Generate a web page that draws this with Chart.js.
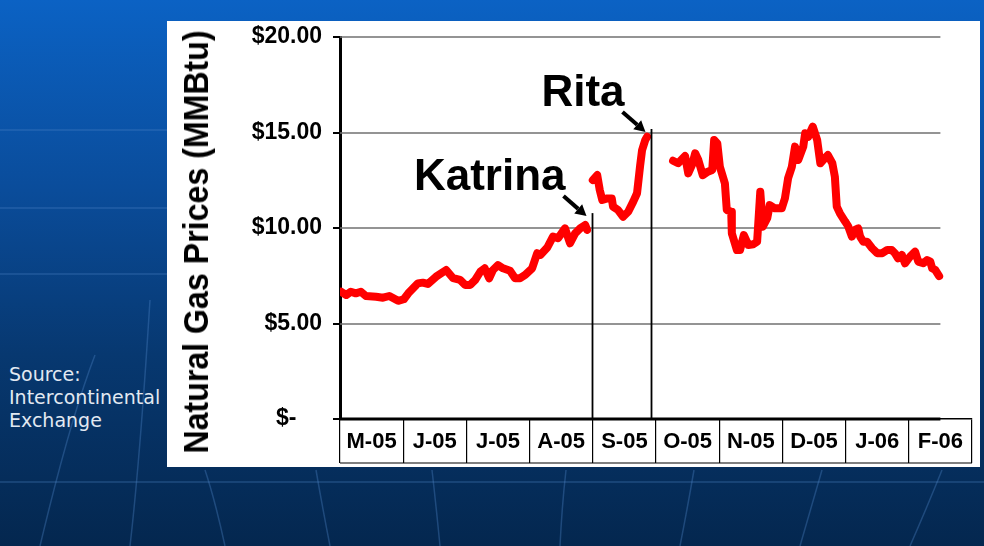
<!DOCTYPE html>
<html>
<head>
<meta charset="utf-8">
<title>Natural Gas Prices</title>
<script src="https://cdn.jsdelivr.net/npm/chart.js@4.4.0/dist/chart.umd.min.js"></script>
<style>
html, body { margin: 0; padding: 0; }
body {
    width: 984px; height: 546px; overflow: hidden; position: relative;
    background: linear-gradient(to bottom, #0b62c4 0%, #0a4c9a 35%, #073870 65%, #04274f 100%);
    font-family: Arial, "Liberation Sans", sans-serif;
}
#deco { position: absolute; left: 0; top: 0; }
#panel { position: absolute; left: 167px; top: 21px; width: 813px; height: 446px; background: #fff; }
#ytitle {
    position: absolute; left: 196px; top: 242px; white-space: nowrap;
    font-weight: bold; font-size: 35px; color: #000;
    transform: translate(-50%, -50%) rotate(-90deg) scaleX(0.918);
}
#source {
    position: absolute; left: 9px; top: 363px; color: #e2e9f2;
    font-family: "DejaVu Sans", sans-serif; font-size: 19px; line-height: 23px;
}
</style>
</head>
<body>
<svg id="deco" width="984" height="546">
  <g stroke="#4f86c8" stroke-opacity="0.35" stroke-width="1.5" fill="none">
    <line x1="0" y1="130" x2="167" y2="130"/>
    <line x1="0" y1="208" x2="167" y2="208"/>
    <line x1="0" y1="274" x2="167" y2="274"/>
    <line x1="0" y1="482" x2="984" y2="482"/>
    <path d="M40 546 Q70 420 95 355"/>
    <path d="M130 546 Q140 460 150 300"/>
    <path d="M225 546 Q215 500 205 470"/>
    <path d="M330 546 Q322 505 316 470"/>
    <path d="M440 546 Q436 505 432 470"/>
    <path d="M560 546 Q562 505 566 470"/>
    <path d="M680 546 Q688 505 694 470"/>
    <path d="M800 546 Q812 505 822 470"/>
    <path d="M910 546 Q928 505 942 470"/>
  </g>
</svg>
<div id="source">Source:<br>Intercontinental<br>Exchange</div>
<div id="panel"><canvas id="chart" width="813" height="446"></canvas></div>
<div id="ytitle">Natural Gas Prices (MMBtu)</div>
<script>
// months shown under the axis
var months = ["M-05", "J-05", "J-05", "A-05", "S-05", "O-05", "N-05", "D-05", "J-06", "F-06"];
// position along the axis in months from start of May 2005, null price = no trading data shown
var monthPos = [0.02, 0.10, 0.17, 0.25, 0.33, 0.41, 0.57, 0.68, 0.78, 0.92,
    1.01, 1.08, 1.23, 1.31, 1.39, 1.52, 1.68, 1.79, 1.90, 1.98,
    2.06, 2.14, 2.22, 2.29, 2.36, 2.42, 2.50, 2.58, 2.69, 2.77,
    2.85, 2.93, 3.04, 3.12, 3.17, 3.28, 3.37, 3.45, 3.56, 3.64,
    3.72, 3.80, 3.88, 3.91, 3.95,
    4.00, 4.07, 4.11, 4.15, 4.23, 4.30, 4.32, 4.40, 4.48, 4.56,
    4.64, 4.70, 4.75, 4.78, 4.83, 4.86, 5.00,
    5.27, 5.35, 5.41, 5.46, 5.51, 5.57, 5.62, 5.67, 5.74, 5.82,
    5.89, 5.92, 5.97, 6.01, 6.09, 6.12, 6.19, 6.20, 6.28, 6.33,
    6.39, 6.46, 6.54, 6.60, 6.65, 6.69, 6.76, 6.80, 6.88, 6.99,
    7.04, 7.09, 7.15, 7.20, 7.25, 7.33, 7.36, 7.41, 7.48, 7.55,
    7.60, 7.67, 7.72, 7.79, 7.83, 7.86, 7.91, 7.99, 8.04, 8.10,
    8.15, 8.20, 8.23, 8.28, 8.34, 8.42, 8.50, 8.58, 8.66, 8.73,
    8.78, 8.83, 8.89, 8.94, 9.02, 9.10, 9.15, 9.23, 9.29, 9.34,
    9.37, 9.42, 9.48];
var prices = [6.66, 6.49, 6.66, 6.58, 6.66, 6.44, 6.40, 6.35, 6.44, 6.19,
    6.27, 6.58, 7.10, 7.14, 7.07, 7.45, 7.80, 7.37, 7.28, 7.02,
    7.02, 7.28, 7.71, 7.89, 7.37, 7.80, 8.06, 7.89, 7.76, 7.37,
    7.37, 7.54, 7.89, 8.68, 8.59, 8.98, 9.55, 9.46, 9.98, 9.20,
    9.72, 9.98, 10.16, 9.90, null,
    12.51, 12.77, 11.99, 11.47, 11.55, 11.55, 11.12, 10.94, 10.59, 10.85,
    11.38, 11.82, 13.30, 14.08, 14.61, 14.78, null,
    13.52, 13.39, 13.60, 13.77, 12.86, 13.30, 13.91, 13.56, 12.77, 12.95,
    13.04, 14.61, 14.43, 13.21, 12.34, 10.94, 10.85, 9.72, 8.85, 8.85,
    9.63, 9.11, 9.15, 9.28, 11.90, 10.07, 10.51, 11.20, 11.03, 11.03,
    11.55, 12.60, 13.21, 14.26, 13.56, 14.26, 14.96, 14.78, 15.31, 14.61,
    13.39, 13.65, 13.82, 13.39, 12.69, 11.12, 10.77, 10.35, 10.10, 9.55,
    9.90, 9.98, 9.55, 9.28, 9.28, 8.94, 8.68, 8.68, 8.85, 8.85,
    8.68, 8.41, 8.59, 8.15, 8.50, 8.76, 8.24, 8.15, 8.32, 8.24,
    7.89, 7.80, 7.48];
var yTicks = [0, 5, 10, 15, 20];
// hurricanes: where the marker line sits and how high it reaches
var storms = ["Katrina", "Rita"];
var stormPos = [3.99, 4.92];
var stormTop = [10.78, 15.18];

var gridEnd = 9.5; // horizontal grid lines stop here, month boxes run on
var FONT = 'Arial, "Liberation Sans", sans-serif';

var points = monthPos.map(function(m, i) { return {x: m, y: prices[i]}; });

var gridPlugin = {
    id: "gridPlugin",
    beforeDatasetsDraw: function(chart) {
        var ctx = chart.ctx, x = chart.scales.x, y = chart.scales.y;
        var left = chart.chartArea.left, xEnd = x.getPixelForValue(gridEnd);
        ctx.save();
        ctx.strokeStyle = "#707070";
        ctx.lineWidth = 1.5;
        yTicks.forEach(function(v) {
            if (v === 0) return;
            var py = Math.round(y.getPixelForValue(v));
            ctx.beginPath(); ctx.moveTo(left, py); ctx.lineTo(xEnd, py); ctx.stroke();
        });
        ctx.strokeStyle = "#000";
        ctx.lineWidth = 3;
        var p0 = Math.round(y.getPixelForValue(0));
        ctx.beginPath(); ctx.moveTo(left, p0); ctx.lineTo(xEnd, p0); ctx.stroke();
        ctx.restore();
    },
    afterDraw: function(chart) {
        var ctx = chart.ctx, m = chart.scales.months;
        var yb = m.top + m.options.grid.tickLength;
        ctx.save();
        ctx.strokeStyle = "#000";
        ctx.lineWidth = 1.2;
        ctx.beginPath(); ctx.moveTo(m.left, yb); ctx.lineTo(m.right, yb); ctx.stroke();
        ctx.restore();
    }
};

var stormPlugin = {
    id: "stormPlugin",
    afterDatasetsDraw: function(chart) {
        var ctx = chart.ctx, x = chart.scales.x, y = chart.scales.y;
        ctx.save();
        storms.forEach(function(name, i) {
            var px = Math.round(x.getPixelForValue(stormPos[i])) + 0.5;
            var top = y.getPixelForValue(stormTop[i]);
            var bottom = y.getPixelForValue(0);
            ctx.strokeStyle = "#000";
            ctx.lineWidth = 1.8;
            ctx.beginPath(); ctx.moveTo(px, top); ctx.lineTo(px, bottom); ctx.stroke();
            // arrow pointing at the top of the line
            var tx = px - 29, ty = top - 17, hx = px - 6, hy = top + 3;
            var ang = Math.atan2(hy - ty, hx - tx);
            var hl = 11;
            ctx.lineWidth = 4;
            ctx.beginPath();
            ctx.moveTo(tx, ty);
            ctx.lineTo(hx - hl * Math.cos(ang), hy - hl * Math.sin(ang));
            ctx.stroke();
            ctx.fillStyle = "#000";
            ctx.beginPath();
            ctx.moveTo(hx, hy);
            ctx.lineTo(hx - hl * Math.cos(ang) + 6 * Math.sin(ang), hy - hl * Math.sin(ang) - 6 * Math.cos(ang));
            ctx.lineTo(hx - hl * Math.cos(ang) - 6 * Math.sin(ang), hy - hl * Math.sin(ang) + 6 * Math.cos(ang));
            ctx.closePath();
            ctx.fill();
            ctx.font = "bold 44px " + FONT;
            ctx.textAlign = "right";
            ctx.textBaseline = "alphabetic";
            ctx.fillText(name, px - 27, top - 23);
        });
        ctx.restore();
    }
};

var chart = new Chart(document.getElementById("chart"), {
    type: "line",
    data: {
        datasets: [{
            data: points,
            borderColor: "#ff0000",
            borderWidth: 8,
            borderJoinStyle: "round",
            borderCapStyle: "round",
            pointRadius: 0,
            tension: 0,
            spanGaps: false
        }]
    },
    options: {
        responsive: false,
        animation: false,
        devicePixelRatio: 1,
        layout: { padding: { top: 16, right: 8, left: 0, bottom: 0 } },
        plugins: { legend: { display: false }, tooltip: { enabled: false } },
        scales: {
            x: { type: "linear", min: 0, max: 10, display: false },
            months: {
                type: "category",
                labels: months,
                position: "bottom",
                offset: true,
                grid: { offset: true, drawOnChartArea: false, tickLength: 44, color: "#000", lineWidth: 1.2 },
                border: { display: true, color: "#000", width: 1.5 },
                ticks: {
                    autoSkip: false, maxRotation: 0, padding: -34, color: "#000",
                    font: { family: FONT, size: 22, weight: "bold" }
                },
                afterFit: function(s) { s.height = 48; }
            },
            y: {
                min: 0, max: 20,
                afterBuildTicks: function(s) { s.ticks = yTicks.map(function(v) { return {value: v}; }); },
                grid: { drawOnChartArea: false, drawTicks: true, tickLength: 7, color: "#000", lineWidth: 2 },
                border: { display: true, color: "#000", width: 3 },
                ticks: {
                    padding: 11, color: "#000",
                    font: { family: FONT, size: 23, weight: "bold" },
                    callback: function(v) { return v === 0 ? "$-    " : "$" + v.toFixed(2); }
                },
                afterFit: function(s) { s.width = 173; s.paddingTop = 0; s.paddingBottom = 0; }
            }
        }
    },
    plugins: [gridPlugin, stormPlugin]
});
</script>
</body>
</html>
